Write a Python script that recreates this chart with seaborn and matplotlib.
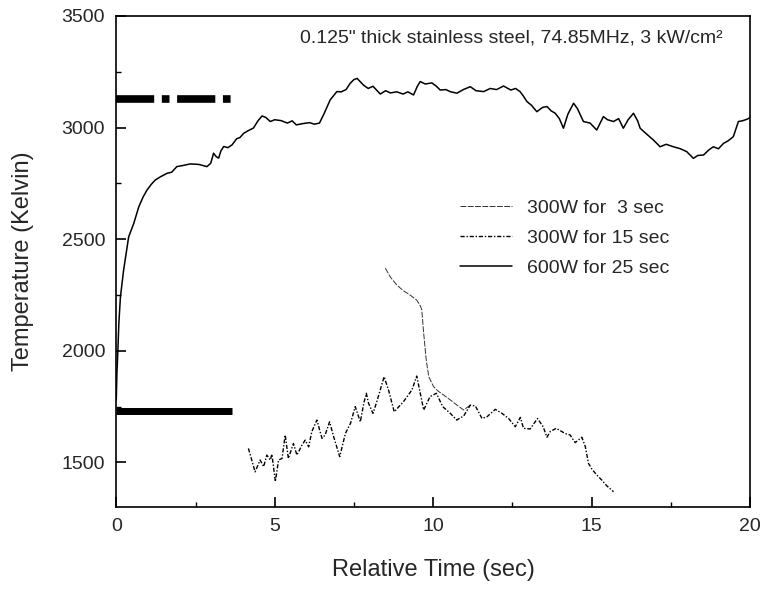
import matplotlib
matplotlib.use('Agg')
import matplotlib.pyplot as plt
from matplotlib.ticker import MultipleLocator
import seaborn as sns

##################################################################################
# data
##################################################################################
# 600W for 25 sec (solid)
t600 = [0.0, 0.02, 0.05, 0.08, 0.13, 0.23, 0.39, 0.55, 0.71, 0.85, 0.97, 1.1,
        1.23, 1.4, 1.6, 1.75, 1.91, 2.1, 2.33, 2.6, 2.86, 2.98, 3.07, 3.15,
        3.23, 3.3, 3.39, 3.52, 3.65, 3.8, 3.9, 4.02, 4.15, 4.33, 4.47, 4.6,
        4.72, 4.86, 5.0, 5.2, 5.4, 5.55, 5.68, 5.9, 6.1, 6.25, 6.41, 6.55,
        6.75, 6.96, 7.1, 7.25, 7.38, 7.5, 7.6, 7.7, 7.8, 7.95, 8.1, 8.33,
        8.5, 8.65, 8.85, 9.05, 9.2, 9.38, 9.5, 9.59, 9.75, 9.96, 10.1, 10.22,
        10.4, 10.55, 10.75, 10.95, 11.17, 11.35, 11.59, 11.8, 12.0, 12.22,
        12.45, 12.6, 12.74, 12.85, 12.96, 13.1, 13.27, 13.45, 13.59, 13.72,
        13.85, 13.98, 14.11, 14.25, 14.43, 14.55, 14.74, 14.95, 15.16, 15.37,
        15.5, 15.69, 15.85, 16.0, 16.15, 16.32, 16.45, 16.53, 16.7, 16.95,
        17.16, 17.35, 17.58, 17.8, 18.0, 18.21, 18.35, 18.53, 18.7, 18.84,
        19.0, 19.16, 19.3, 19.47, 19.63, 19.75, 19.9, 20.0]
T600 = [1780, 1900, 2000, 2120, 2240, 2360, 2510, 2570, 2645, 2690, 2720, 2745,
        2765, 2780, 2795, 2800, 2825, 2830, 2837, 2835, 2825, 2840, 2885, 2870,
        2863, 2895, 2915, 2910, 2922, 2950, 2955, 2974, 2985, 2998, 3030, 3052,
        3045, 3027, 3035, 3031, 3020, 3030, 3012, 3018, 3022, 3015, 3020, 3060,
        3124, 3161, 3160, 3170, 3198, 3215, 3220, 3205, 3190, 3175, 3185, 3150,
        3165, 3155, 3160, 3150, 3160, 3146, 3185, 3206, 3195, 3200, 3185, 3168,
        3170, 3160, 3154, 3170, 3183, 3165, 3161, 3175, 3170, 3186,
        3168, 3175, 3161, 3140, 3116, 3100, 3071, 3090, 3094, 3075,
        3064, 3040, 2997, 3060, 3109, 3085, 3027, 3020, 2989, 3049,
        3035, 3027, 3040, 2997, 3035, 3064, 3030, 2997, 2975, 2944,
        2914, 2925, 2914, 2905, 2892, 2862, 2875, 2877, 2900, 2914,
        2905, 2929, 2940, 2959, 3027, 3030, 3037, 3045]

# 300W for 15 sec (fine dash-dot)
t15 = [4.17, 4.38, 4.54, 4.65, 4.75, 4.86, 4.91, 5.02, 5.12, 5.23, 5.33, 5.43,
       5.59, 5.7, 5.86, 5.96, 6.07, 6.17, 6.33, 6.49, 6.59, 6.73, 6.86, 7.05,
       7.23, 7.39, 7.54, 7.7, 7.81, 7.89, 7.96, 8.1, 8.22, 8.45, 8.59, 8.77,
       9.06, 9.33, 9.48, 9.7, 9.9, 10.1, 10.3, 10.54, 10.74, 10.96, 11.17,
       11.33, 11.54, 11.7, 11.96, 12.17, 12.38, 12.59, 12.75, 12.85, 13.06,
       13.29, 13.47, 13.59, 13.69, 13.88, 14.16, 14.32, 14.48, 14.69, 14.8,
       14.9, 15.01, 15.16, 15.32, 15.48, 15.69]
T15 = [1563, 1458, 1511, 1481, 1533, 1511, 1537, 1414, 1511, 1518, 1623, 1518,
       1585, 1533, 1578, 1600, 1570, 1638, 1690, 1608, 1623, 1682, 1615, 1526,
       1630, 1675, 1750, 1682, 1765, 1810, 1765, 1720, 1772, 1884, 1825, 1727,
       1772, 1825, 1887, 1735, 1795, 1810, 1750, 1720, 1690, 1708, 1757,
       1753, 1697, 1705, 1738, 1720, 1697, 1660, 1702, 1653, 1650,
       1697, 1660, 1613, 1638, 1653, 1630, 1623, 1589, 1613, 1571,
       1496, 1470, 1444, 1421, 1395, 1369]

# 300W for 3 sec (thin dashed)
t3 = [8.49, 8.65, 8.85, 9.05, 9.27, 9.48, 9.6, 9.64, 9.7, 9.78, 9.86, 10.01,
      10.15, 10.33, 10.54, 10.75, 10.96, 11.17]
T3 = [2370, 2330, 2295, 2270, 2250, 2227, 2200, 2183, 2078, 1959, 1884, 1840,
      1820, 1802, 1780, 1757, 1735, 1757]

# thick reference levels at the left
ref_t = [0.0, 3.65]
ref_upper = [3130, 3130]
ref_lower = [1730, 1730]

labels = ['300W for  3 sec', '300W for 15 sec', '600W for 25 sec']
title = '0.125" thick stainless steel, 74.85MHz, 3 kW/cm\u00b2'

##################################################################################
# plot
##################################################################################
sns.set_style('ticks')
plt.rcParams['font.family'] = ['Liberation Sans', 'DejaVu Sans']

fig = plt.figure(figsize=(7.6, 5.89), dpi=100)
ax = fig.add_axes([0.153, 0.139, 0.834, 0.834])

sns.lineplot(x=t3, y=T3, ax=ax, color='#333333', lw=0.7,
             linestyle=(0, (6, 1.5)), label=labels[0], estimator=None, sort=False)
sns.lineplot(x=t15, y=T15, ax=ax, color='black', lw=1.0,
             linestyle=(0, (3, 1.3, 1, 1.3)), label=labels[1], estimator=None,
             sort=False)
sns.lineplot(x=t600, y=T600, ax=ax, color='black', lw=1.1,
             label=labels[2], estimator=None, sort=False)

sns.lineplot(x=ref_t, y=ref_upper, ax=ax, color='black', lw=5.5,
             linestyle=(0, (5, 1.0, 1.0, 1.0)), legend=False, estimator=None)
sns.lineplot(x=ref_t, y=ref_lower, ax=ax, color='black', lw=5.0,
             legend=False, estimator=None, solid_capstyle='butt')

ax.set_xlim(0, 20)
ax.set_ylim(1300, 3500)
ax.xaxis.set_major_locator(MultipleLocator(5))
ax.xaxis.set_minor_locator(MultipleLocator(2.5))
ax.yaxis.set_major_locator(MultipleLocator(500))
ax.yaxis.set_minor_locator(MultipleLocator(250))

ax.tick_params(which='major', direction='in', length=7, width=1.2,
               labelsize=14, pad=8, color='black')
ax.tick_params(which='minor', direction='in', length=3.5, width=1.0,
               color='black')
for sp in ax.spines.values():
    sp.set_linewidth(1.2)
    sp.set_color('black')

ax.set_xlabel('Relative Time (sec)', fontsize=17, labelpad=17)
ax.set_ylabel('Temperature (Kelvin)', fontsize=17, labelpad=20)

ax.text(0.956, 0.955, title, transform=ax.transAxes, ha='right', va='center',
        fontsize=14)

handles, _ = ax.get_legend_handles_labels()
ax.legend(handles[:3], labels, loc='upper left', bbox_to_anchor=(0.5426, 0.627),
          frameon=False, fontsize=14, handlelength=2.67, handletextpad=0.77,
          labelspacing=0.65, borderpad=0, borderaxespad=0)

plt.savefig('out.png', dpi=100)
